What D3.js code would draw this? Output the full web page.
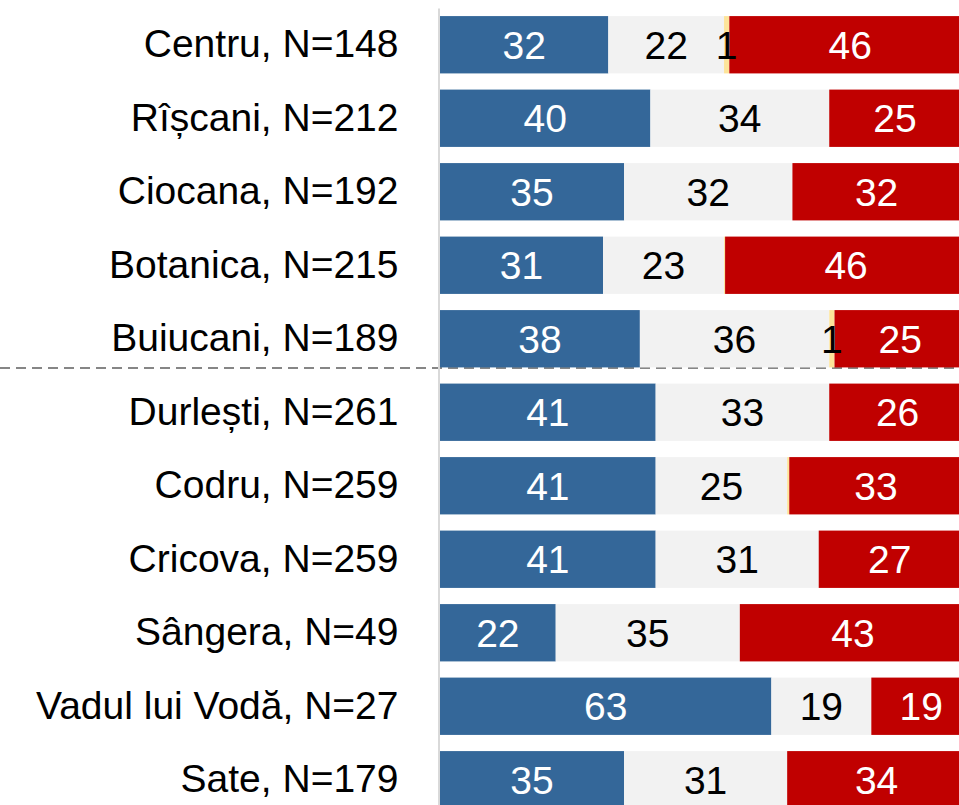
<!DOCTYPE html>
<html>
<head>
<meta charset="utf-8">
<script src="https://cdn.jsdelivr.net/npm/d3@7"></script>
<style>
  html, body { margin: 0; padding: 0; background: #fff; }
  svg { display: block; font-family: "Liberation Sans", Arial, sans-serif; }
</style>
</head>
<body>
<div id="chart"></div>
<script>
// Sectors of Chișinău municipality and sample sizes
const categories = [
  "Centru, N=148", "Rîșcani, N=212", "Ciocana, N=192", "Botanica, N=215",
  "Buiucani, N=189", "Durlești, N=261", "Codru, N=259", "Cricova, N=259",
  "Sângera, N=49", "Vadul lui Vodă, N=27", "Sate, N=179"
];
// Shares (%) per answer group
const blueValues   = [32, 40, 35, 31, 38, 41, 41, 41, 22, 63, 35];
const grayValues   = [22, 34, 32, 23, 36, 33, 25, 31, 35, 19, 31];
const yellowValues = [1, 0, 0, 0.2, 1, 0, 0.4, 0, 0, 0, 0];
const redValues    = [46, 25, 32, 46, 25, 26, 33, 27, 43, 19, 34];

// Group after which the city sectors end and suburbs begin
const separatorAfter = "Buiucani, N=189";

const series = [
  { key: "blue",   values: blueValues,   fill: "#346799", text: "#ffffff" },
  { key: "gray",   values: grayValues,   fill: "#f2f2f2", text: "#000000" },
  { key: "yellow", values: yellowValues, fill: "#fde49a", text: "#000000" },
  { key: "red",    values: redValues,    fill: "#c00000", text: "#ffffff" }
];

const W = 959, H = 805;
const svg = d3.select("#chart").append("svg")
  .attr("width", W).attr("height", H);

const x = d3.scaleLinear().domain([0, 100]).range([440, 966]);
const y = d3.scaleBand().domain(categories)
  .range([8, 8 + 11 * 73.5])
  .paddingInner(0.22).paddingOuter(0.11);

// Build stacked segments
const segments = [];
categories.forEach((c, i) => {
  let acc = 0;
  series.forEach(s => {
    const v = s.values[i];
    segments.push({ cat: c, key: s.key, v, x0: acc, x1: acc + v, fill: s.fill, text: s.text });
    acc += v;
  });
});

// Separator between sectors and suburbs
const sepY = y(separatorAfter) + y.bandwidth() + 0.5;
svg.append("line")
  .attr("x1", 0).attr("x2", W)
  .attr("y1", sepY).attr("y2", sepY)
  .attr("stroke", "#868686").attr("stroke-width", 2)
  .attr("stroke-dasharray", "10,6");

// Bars
svg.append("g").selectAll("rect")
  .data(segments.filter(d => d.v > 0))
  .join("rect")
  .attr("x", d => x(d.x0))
  .attr("y", d => y(d.cat))
  .attr("width", d => x(d.x1) - x(d.x0))
  .attr("height", y.bandwidth())
  .attr("fill", d => d.fill);

// Category axis
const axis = svg.append("g")
  .attr("transform", `translate(438.5,0)`)
  .call(d3.axisLeft(y).tickSize(0).tickPadding(40));
axis.select(".domain").attr("stroke", "#d9d9d9").attr("stroke-width", 2);
axis.selectAll("text")
  .attr("font-size", 39)
  .attr("font-family", "'Liberation Sans', Arial, sans-serif")
  .attr("fill", "#000");

// Value labels
svg.append("g").selectAll("text")
  .data(segments.filter(d => Math.round(d.v) > 0))
  .join("text")
  .attr("x", d => (x(d.x0) + x(d.x1)) / 2)
  .attr("y", d => y(d.cat) + y.bandwidth() / 2)
  .attr("dy", "0.36em")
  .attr("text-anchor", "middle")
  .attr("font-size", 39)
  .attr("fill", d => d.text)
  .text(d => Math.round(d.v));
</script>
</body>
</html>
